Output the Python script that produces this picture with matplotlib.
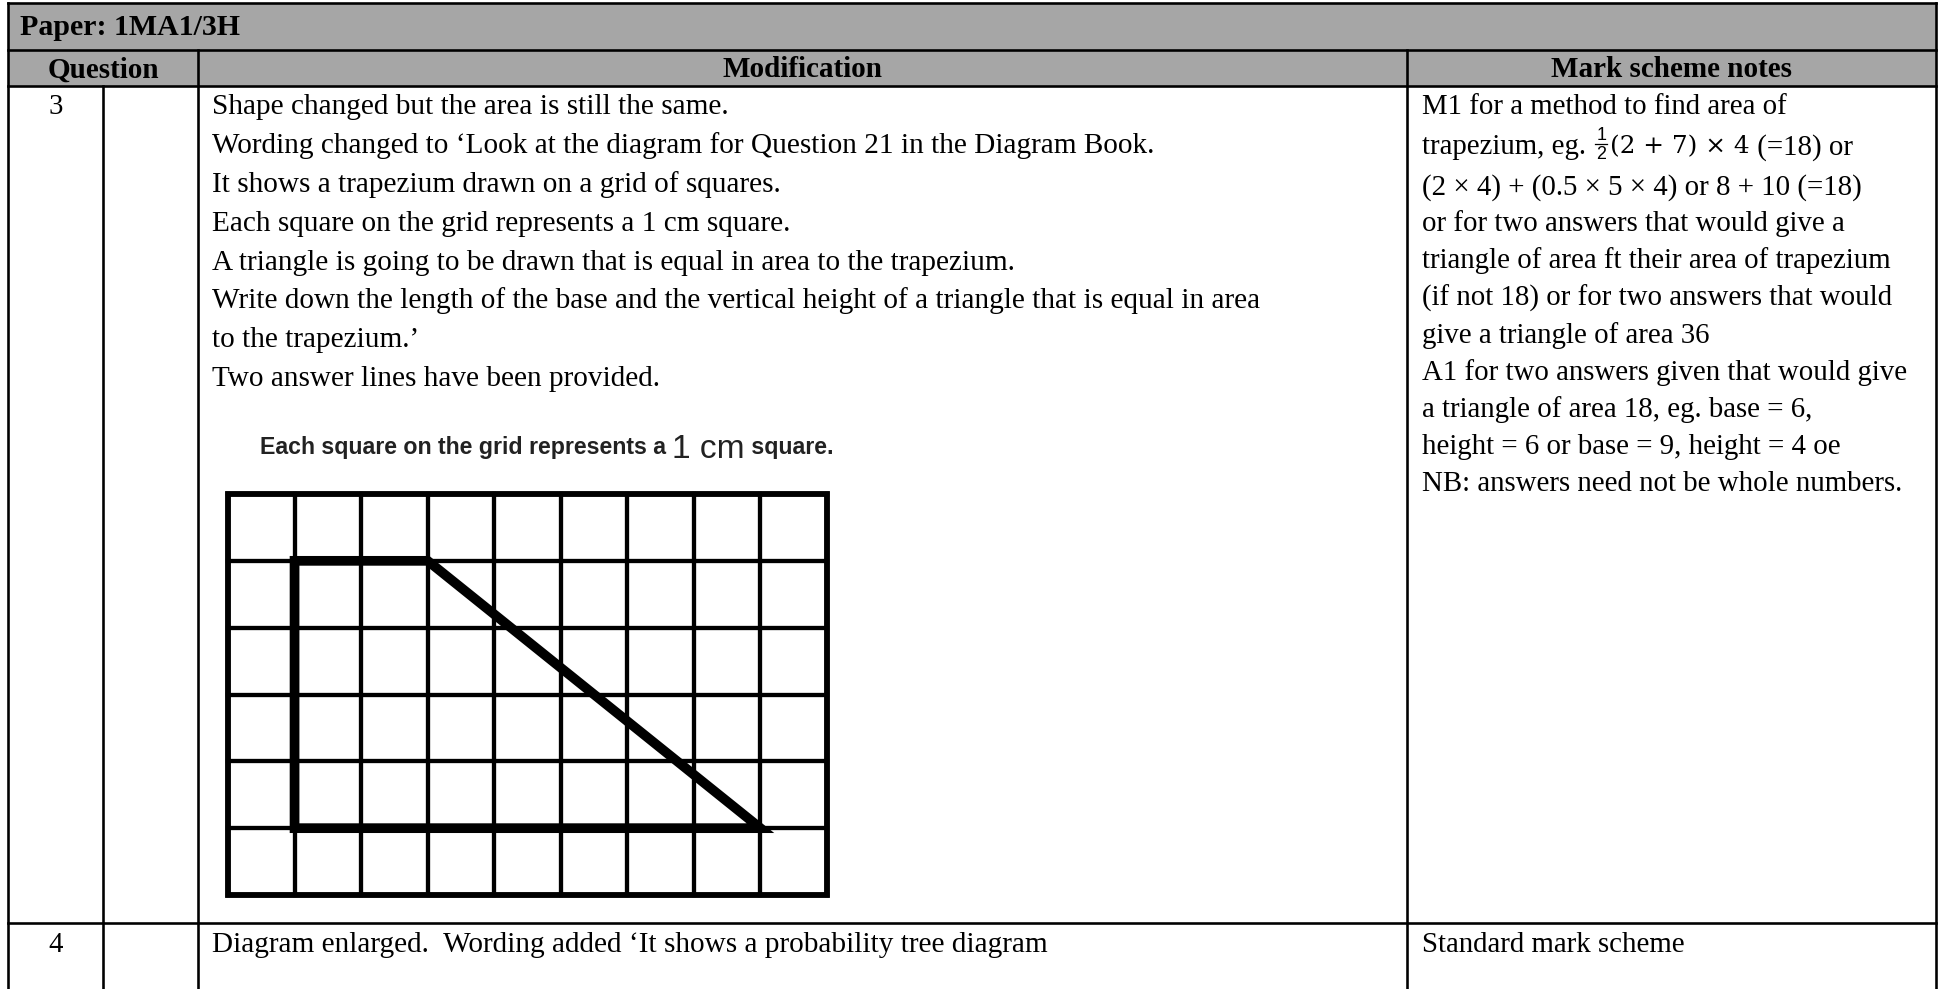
import matplotlib
matplotlib.use("Agg")
import matplotlib.pyplot as plt
from matplotlib.patches import Rectangle, Polygon

# ---------------- content ----------------
paper_label = "Paper: 1MA1/3H"
headers = ["Question", "Modification", "Mark scheme notes"]
q_numbers = ["3", "4"]

mod_lines_q3 = [
    "Shape changed but the area is still the same.",
    "Wording changed to \u2018Look at the diagram for Question 21 in the Diagram Book.",
    "It shows a trapezium drawn on a grid of squares.",
    "Each square on the grid represents a 1 cm square.",
    "A triangle is going to be drawn that is equal in area to the trapezium.",
    "Write down the length of the base and the vertical height of a triangle that is equal in area",
    "to the trapezium.\u2019",
    "Two answer lines have been provided.",
]
caption_parts = ["Each square on the grid represents a ", "1 cm", " square."]

mark_line1 = "M1 for a method to find area of"
mark_line2_parts = ["trapezium, eg. ", ("1", "2"), "(2 + 7) \u00d7 4", " (=18) or"]
mark_lines_rest = [
    "(2 \u00d7 4) + (0.5 \u00d7 5 \u00d7 4) or 8 + 10 (=18)",
    "or for two answers that would give a",
    "triangle of area ft their area of trapezium",
    "(if not 18) or for two answers that would",
    "give a triangle of area 36",
    "A1 for two answers given that would give",
    "a triangle of area 18, eg. base = 6,",
    "height = 6 or base = 9, height = 4 oe",
    "NB: answers need not be whole numbers.",
]
mod_q4 = "Diagram enlarged.  Wording added \u2018It shows a probability tree diagram"
mark_q4 = "Standard mark scheme"

grid_cols, grid_rows = 9, 6
trap_x = [1, 3, 8, 1]   # trapezium vertices in grid squares
trap_y = [1, 1, 5, 5]

# ---------------- layout ----------------
W, H = 1943, 989
SERIF = "Liberation Serif"
SANS = "Liberation Sans"
HEAD_FILL = "#a6a6a6"
col_x = [8, 103, 198, 1407, 1936]
row_y = [3, 50, 86, 923]
LW = 2.6 * 0.72

fig = plt.figure(figsize=(W / 100, H / 100), dpi=100)
fig.patch.set_facecolor("white")
ax = fig.add_axes([0, 0, 1, 1])
ax.set_xlim(0, W)
ax.set_ylim(H, 0)
ax.axis("off")
r = fig.canvas.get_renderer()


def twidth(s, size, family=SERIF, **kw):
    t = ax.text(0, 0, s, fontsize=size, family=family, **kw)
    w = t.get_window_extent(r).width
    t.remove()
    return w


fs = 20 * 480 / twidth(mark_lines_rest[-1], 20)
fs_mod = fs * 1.012
fs_head = 20 * 241 / twidth(headers[2], 20, weight="bold")
fs_paper = 20 * 220 / twidth(paper_label, 20, weight="bold")
em = fs * 100 / 72


def put(x, yc, s, size=None, ha="left", family=SERIF, color="black", **kw):
    size = size or fs
    e = size * 100 / 72
    return ax.text(x, yc + 0.32 * e, s, fontsize=size, family=family,
                   ha=ha, va="baseline", color=color, **kw)


# header fills
ax.add_patch(Rectangle((col_x[0], row_y[0]), col_x[-1] - col_x[0], row_y[2] - row_y[0],
                       facecolor=HEAD_FILL, edgecolor="none", zorder=0))


def hline(y, x0=col_x[0], x1=col_x[-1]):
    ax.plot([x0, x1], [y, y], color="black", lw=LW, solid_capstyle="projecting")


def vline(x, y0, y1=H + 5):
    ax.plot([x, x], [y0, y1], color="black", lw=LW, solid_capstyle="projecting")


for y in row_y:
    hline(y)
vline(col_x[0], row_y[0])
vline(col_x[-1], row_y[0])
vline(col_x[2], row_y[1])
vline(col_x[3], row_y[1])
vline(col_x[1], row_y[2])

# header texts
put(20, 25, paper_label, size=fs_paper, weight="bold")
put((col_x[0] + col_x[2]) / 2, 68, headers[0], size=fs_head, ha="center", weight="bold")
put((col_x[2] + col_x[3]) / 2, 68, headers[1], size=fs_head, ha="center", weight="bold")
put((col_x[3] + col_x[4]) / 2, 68, headers[2], size=fs_head, ha="center", weight="bold")

# question numbers
qx = (col_x[0] + col_x[1]) / 2
put(qx, 105, q_numbers[0], ha="center")
put(qx, 943, q_numbers[1], ha="center")

# modification column, question 3
tx_mod = col_x[2] + 14
for i, line in enumerate(mod_lines_q3):
    put(tx_mod, 105 + i * 38.8, line, size=fs_mod)

# caption above grid
cap_fs = fs * 0.80
cap_y = 447
x = 260
for k, part in enumerate(caption_parts):
    if k == 1:
        t = put(x, cap_y, part, size=cap_fs * 1.45, family=SANS, color="#222222")
    else:
        t = put(x, cap_y, part, size=cap_fs, family=SANS, color="#222222", weight="bold")
    x = t.get_window_extent(r).x1

# grid diagram
gl, gr, gt, gb = 228, 827, 494, 895
gax = fig.add_axes([gl / W, 1 - gb / H, (gr - gl) / W, (gb - gt) / H])
gax.set_xlim(0, grid_cols)
gax.set_ylim(grid_rows, 0)
gax.axis("off")
for c in range(grid_cols + 1):
    gax.plot([c, c], [0, grid_rows], color="black", lw=3.1, clip_on=False,
             solid_capstyle="projecting")
for rr in range(grid_rows + 1):
    gax.plot([0, grid_cols], [rr, rr], color="black", lw=3.1, clip_on=False,
             solid_capstyle="projecting")
gax.add_patch(Rectangle((0, 0), grid_cols, grid_rows, fill=False, edgecolor="black",
                        lw=4.2, clip_on=False))
gax.add_patch(Polygon(list(zip(trap_x, trap_y)), closed=True, fill=False,
                      edgecolor="black", lw=7.0, joinstyle="miter", clip_on=False))

# mark scheme column
tx_mark = col_x[3] + 15
put(tx_mark, 105, mark_line1)
y2 = 145
x = tx_mark
for part in mark_line2_parts:
    if isinstance(part, tuple):
        fsz = fs * 0.62
        fw = twidth(part[0], fsz, family=SANS)
        cx = x + 3 + fw / 2
        ax.text(cx, y2 - 0.05 * em, part[0], fontsize=fsz, family=SANS, ha="center",
                va="bottom")
        ax.text(cx, y2 + 0.02 * em, part[1], fontsize=fsz, family=SANS, ha="center",
                va="top")
        ax.plot([cx - fw / 2 - 1, cx + fw / 2 + 1], [y2 - 0.02 * em, y2 - 0.02 * em],
                color="black", lw=0.9)
        x = cx + fw / 2 + 4
    elif part.startswith("(2 +"):
        t = put(x, y2, part, size=fs * 0.86, family="DejaVu Serif")
        x = t.get_window_extent(r).x1
    else:
        t = put(x, y2, part)
        x = t.get_window_extent(r).x1
for i, line in enumerate(mark_lines_rest):
    put(tx_mark, 185 + i * 37.1, line)

# question 4 row
put(tx_mod, 943, mod_q4, size=fs_mod)
put(tx_mark, 943, mark_q4)

fig.savefig("out.png", dpi=100, facecolor="white")
